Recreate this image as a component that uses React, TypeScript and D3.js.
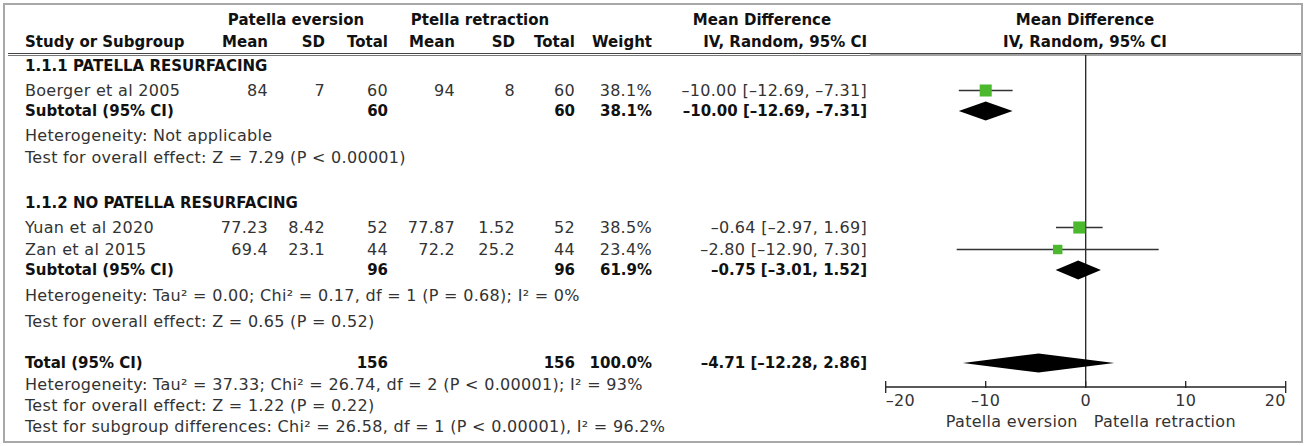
import * as d3 from "d3";

// ---- data ----
const studyNames = ["Boerger et al 2005", "Yuan et al 2020", "Zan et al 2015"];
const studyGroup = [0, 1, 1];
const eversionMean = [84, 77.23, 69.4];
const eversionSD = [7, 8.42, 23.1];
const eversionN = [60, 52, 44];
const retractionMean = [94, 77.87, 72.2];
const retractionSD = [8, 1.52, 25.2];
const retractionN = [60, 52, 44];
const studyWeight = [38.1, 38.5, 23.4];
const studyMD = [-10.0, -0.64, -2.8];
const studyLo = [-12.69, -2.97, -12.9];
const studyHi = [-7.31, 1.69, 7.3];

const groupLabels = ["1.1.1 PATELLA RESURFACING", "1.1.2 NO PATELLA RESURFACING"];
const groupN1 = [60, 96];
const groupN2 = [60, 96];
const groupWeight = [38.1, 61.9];
const groupMD = [-10.0, -0.75];
const groupLo = [-12.69, -3.01];
const groupHi = [-7.31, 1.52];
const groupHet = ["Heterogeneity: Not applicable", "Heterogeneity: Tau² = 0.00; Chi² = 0.17, df = 1 (P = 0.68); I² = 0%"];
const groupEffect = ["Test for overall effect: Z = 7.29 (P < 0.00001)", "Test for overall effect: Z = 0.65 (P = 0.52)"];

const totalN1 = 156;
const totalN2 = 156;
const totalWeight = 100.0;
const totalMD = -4.71;
const totalLo = -12.28;
const totalHi = 2.86;
const totalNotes = [
  "Heterogeneity: Tau² = 37.33; Chi² = 26.74, df = 2 (P < 0.00001); I² = 93%",
  "Test for overall effect: Z = 1.22 (P = 0.22)",
  "Test for subgroup differences: Chi² = 26.58, df = 1 (P < 0.00001), I² = 96.2%",
];

const axisTicks = [-20, -10, 0, 10, 20];
const favoursLeft = "Patella eversion";
const favoursRight = "Patella retraction";

// ---- layout ----
const W = 1306;
const H = 446;
const FONT = "DejaVu Sans";
const FS = 16;
const FS_BOLD = 15;
const LS = 0.3;
const NORMAL = "#333";
const BOLD = "#111";
const GREEN = "#4cb82e";

const colX = { m1: 268, sd1: 325, n1: 388, m2: 455, sd2: 515, n2: 575, w: 652, ci: 867 };
const studyX = 25;
// text baselines for each block of rows
const groupBase = [
  { head: 71, studies: [96], sub: 116, het: 141, eff: 163 },
  { head: 208, studies: [233, 255], sub: 275, het: 301, eff: 327 },
];
const totalBase = 368;
const totalNoteBase = [390, 411, 432];
const axisY = 387;
const plotTop = 55;

const minus = (s: string) => s.replace(/-/g, "–");
const f2 = (v: number) => minus(v.toFixed(2));
const ciText = (md: number, lo: number, hi: number) => `${f2(md)} [${f2(lo)}, ${f2(hi)}]`;

const x = d3.scaleLinear().domain([-20, 20]).range([885.7, 1285.7]);
const boxSize = d3.scaleSqrt().domain([0, 100]).range([0, 19.5]);

const T = ({ x: tx, y, children, bold = false, anchor = "start", fill }: any) => (
  <text
    x={tx}
    y={y}
    textAnchor={anchor}
    fontWeight={bold ? "bold" : "normal"}
    fontSize={bold ? FS_BOLD : FS}
    letterSpacing={bold ? 0 : LS}
    fill={fill ?? (bold ? BOLD : NORMAL)}
  >
    {children}
  </text>
);

const diamond = (md: number, lo: number, hi: number, cy: number, h = 9.5) => {
  const p = d3.path();
  p.moveTo(x(lo), cy);
  p.lineTo(x(md), cy - h);
  p.lineTo(x(hi), cy);
  p.lineTo(x(md), cy + h);
  p.closePath();
  return p.toString();
};

export default function App() {
  const studyRows = studyNames.map((name, i) => {
    const g = studyGroup[i];
    const idx = studyGroup.slice(0, i).filter((v) => v === g).length;
    return { i, name, base: groupBase[g].studies[idx] };
  });

  return (
    <svg
      width={W}
      height={H}
      style={{ position: "absolute", left: 0, top: 0, background: "#fff" }}
      fontFamily={FONT}
      fontSize={FS}
    >
      <rect x={0} y={0} width={W} height={H} fill="#fff" />
      <rect x={4} y={4} width={1298} height={438} fill="none" stroke="#a8a8a8" strokeWidth={2} />

      {/* column headers */}
      <T x={296} y={25} bold anchor="middle">Patella eversion</T>
      <T x={480} y={25} bold anchor="middle">Ptella retraction</T>
      <T x={762} y={25} bold anchor="middle">Mean Difference</T>
      <T x={1085} y={25} bold anchor="middle">Mean Difference</T>
      <T x={studyX} y={47} bold>Study or Subgroup</T>
      <T x={colX.m1} y={47} bold anchor="end">Mean</T>
      <T x={colX.sd1} y={47} bold anchor="end">SD</T>
      <T x={colX.n1} y={47} bold anchor="end">Total</T>
      <T x={colX.m2} y={47} bold anchor="end">Mean</T>
      <T x={colX.sd2} y={47} bold anchor="end">SD</T>
      <T x={colX.n2} y={47} bold anchor="end">Total</T>
      <T x={colX.w} y={47} bold anchor="end">Weight</T>
      <T x={colX.ci} y={47} bold anchor="end">IV, Random, 95% CI</T>
      <T x={1085} y={47} bold anchor="middle">IV, Random, 95% CI</T>
      <line x1={8} x2={1301} y1={53.5} y2={53.5} stroke="#444" strokeWidth={1.2} />
      <line x1={8} x2={870} y1={55.5} y2={55.5} stroke="#777" strokeWidth={1} />
      <line x1={870} x2={1301} y1={55} y2={55} stroke="#444" strokeWidth={1.2} />

      {/* zero line */}
      <line x1={x(0)} x2={x(0)} y1={plotTop} y2={axisY} stroke="#222" strokeWidth={1.3} />

      {/* subgroups */}
      {groupLabels.map((label, g) => {
        const b = groupBase[g];
        const cy = b.sub - 5;
        return (
          <g key={label}>
            <T x={studyX} y={b.head} bold>{label}</T>
            <T x={studyX} y={b.sub} bold>Subtotal (95% CI)</T>
            <T x={colX.n1} y={b.sub} bold anchor="end">{groupN1[g]}</T>
            <T x={colX.n2} y={b.sub} bold anchor="end">{groupN2[g]}</T>
            <T x={colX.w} y={b.sub} bold anchor="end">{groupWeight[g].toFixed(1)}%</T>
            <T x={colX.ci} y={b.sub} bold anchor="end">{ciText(groupMD[g], groupLo[g], groupHi[g])}</T>
            <T x={studyX} y={b.het}>{groupHet[g]}</T>
            <T x={studyX} y={b.eff}>{groupEffect[g]}</T>
            <path d={diamond(groupMD[g], groupLo[g], groupHi[g], cy)} fill="#000" />
          </g>
        );
      })}

      {/* studies */}
      {studyRows.map(({ i, name, base }) => {
        const cy = base - 5.5;
        const s = boxSize(studyWeight[i]);
        return (
          <g key={name}>
            <T x={studyX} y={base}>{name}</T>
            <T x={colX.m1} y={base} anchor="end">{eversionMean[i]}</T>
            <T x={colX.sd1} y={base} anchor="end">{eversionSD[i]}</T>
            <T x={colX.n1} y={base} anchor="end">{eversionN[i]}</T>
            <T x={colX.m2} y={base} anchor="end">{retractionMean[i]}</T>
            <T x={colX.sd2} y={base} anchor="end">{retractionSD[i]}</T>
            <T x={colX.n2} y={base} anchor="end">{retractionN[i]}</T>
            <T x={colX.w} y={base} anchor="end">{studyWeight[i].toFixed(1)}%</T>
            <T x={colX.ci} y={base} anchor="end">{ciText(studyMD[i], studyLo[i], studyHi[i])}</T>
            <line x1={x(studyLo[i])} x2={x(studyHi[i])} y1={cy} y2={cy} stroke="#333" strokeWidth={1.3} />
            <rect x={x(studyMD[i]) - s / 2} y={cy - s / 2} width={s} height={s} fill={GREEN} />
          </g>
        );
      })}

      {/* total */}
      <T x={studyX} y={totalBase} bold>Total (95% CI)</T>
      <T x={colX.n1} y={totalBase} bold anchor="end">{totalN1}</T>
      <T x={colX.n2} y={totalBase} bold anchor="end">{totalN2}</T>
      <T x={colX.w} y={totalBase} bold anchor="end">{totalWeight.toFixed(1)}%</T>
      <T x={colX.ci} y={totalBase} bold anchor="end">{ciText(totalMD, totalLo, totalHi)}</T>
      <path d={diamond(totalMD, totalLo, totalHi, totalBase - 5)} fill="#000" />
      {totalNotes.map((t, k) => (
        <T key={k} x={studyX} y={totalNoteBase[k]}>{t}</T>
      ))}

      {/* axis */}
      <line x1={x(-20)} x2={x(20)} y1={axisY} y2={axisY} stroke="#222" strokeWidth={1.3} />
      {axisTicks.map((t, k) => {
        const first = k === 0;
        const last = k === axisTicks.length - 1;
        return (
          <g key={t}>
            <line x1={x(t)} x2={x(t)} y1={axisY - 6} y2={axisY + (first || last ? 6 : 1)} stroke="#222" strokeWidth={1.3} />
            <T x={x(t)} y={406} anchor={first ? "start" : last ? "end" : "middle"}>{minus(String(t))}</T>
          </g>
        );
      })}
      <T x={x(0) - 8} y={427} anchor="end">{favoursLeft}</T>
      <T x={x(0) + 8} y={427}>{favoursRight}</T>
    </svg>
  );
}
